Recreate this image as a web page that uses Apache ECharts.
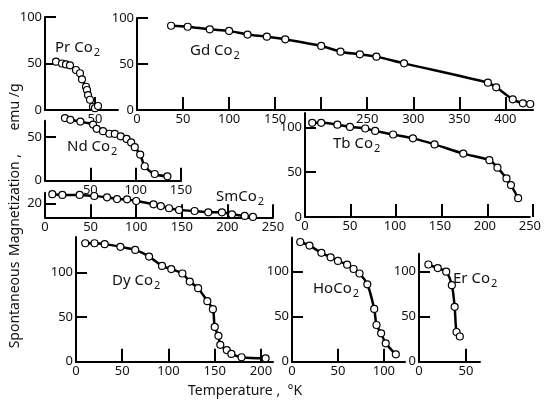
<!DOCTYPE html>
<html>
<head>
<meta charset="utf-8">
<style>
  html, body { margin: 0; padding: 0; background: #fff; }
  #chart { width: 544px; height: 400px; }
</style>
<script src="https://cdn.jsdelivr.net/npm/echarts@6/dist/echarts.min.js"></script>
</head>
<body>
<div id="chart"></div>
<script>
// PrCo2
var prTemp = [11, 17, 21, 25, 31, 35, 37, 41, 42, 43, 45, 48, 50, 53];
var prMag = [52, 50, 49, 48, 43, 39.5, 33, 25, 21.5, 16, 11, 3.5, 2, 4.3];
// GdCo2
var gdTemp = [37, 55, 79, 100, 120, 141, 161, 200, 221, 242, 260, 290, 381, 390, 408, 419, 427];
var gdMag = [91.6, 90.5, 87.7, 86, 82, 79.7, 76.8, 69.6, 63.4, 60.5, 58, 50.7, 29.7, 24.7, 11.6, 7.3, 6.5];
// NdCo2
var ndTemp = [22, 28, 39, 53, 57, 64, 71, 77, 83.5, 90, 95, 99, 105, 110, 121, 135];
var ndMag = [72, 70, 68, 64.5, 59.6, 57, 54, 53.8, 51, 48, 44, 38.5, 30, 16.6, 7.7, 5];
// SmCo2
var smTemp = [8, 19, 38, 54, 68, 79, 90, 100, 119, 127, 136, 147, 164, 179, 194, 205, 219, 228];
var smMag = [33, 32, 32, 30.4, 28.6, 26.1, 25.7, 23.3, 18.6, 16.1, 12.9, 10.4, 9, 7.1, 7.1, 4.3, 1.9, 0.5];
// TbCo2
var tbTemp = [8, 18, 36, 50, 67, 78, 98, 120, 144, 176, 205, 214, 224, 229, 237];
var tbMag = [105, 105, 103, 100.5, 98.7, 96, 92, 87.7, 81, 70.7, 63.4, 55, 43, 35.6, 21];
// DyCo2
var dyTemp = [10, 20, 31, 48, 64, 79, 93, 103, 115, 123, 132, 142, 148, 150, 154, 156, 163, 168, 179, 205];
var dyMag = [133, 133, 132, 129, 125.5, 118, 107.5, 104, 99, 90, 82.5, 68, 59, 39, 29, 19, 13, 8.7, 5, 3.8];
// HoCo2
var hoTemp = [9, 19, 32, 42, 50, 60, 67, 73.5, 82, 89.5, 92, 97, 102, 113];
var hoMag = [133, 129, 121, 116, 112, 107.8, 103, 98, 86, 58.6, 40.8, 31.5, 20.4, 8.2];
// ErCo2
var erTemp = [10, 20, 29, 35, 38, 40, 43.5];
var erMag = [108, 104, 100, 85, 61, 33, 28];

// tick labels
var prXLabels = [50], prYLabels = [0, 50, 100];
var gdXLabels = [0, 50, 100, 150, 250, 300, 350, 400], gdYLabels = [0, 50, 100];
var ndXLabels = [50, 100, 150], ndYLabels = [0, 50];
var smXLabels = [0, 50, 100, 150, 200, 250], smYLabels = [20];
var tbXLabels = [0, 50, 100, 150, 200, 250], tbYLabels = [0, 50, 100];
var dyXLabels = [0, 50, 100, 150, 200], dyYLabels = [0, 50, 100];
var hoXLabels = [0, 50, 100], hoYLabels = [0, 50, 100];
var erXLabels = [0, 50], erYLabels = [0, 50, 100];

var FONT = 'Noto Sans';
var X_STEP = 50;
var option = {
  backgroundColor: '#fff',
  animation: false,
  grid: [], xAxis: [], yAxis: [], series: [], title: []
};

function zip(a, b) {
  var out = [];
  for (var k = 0; k < a.length; k++) out.push([a[k], b[k]]);
  return out;
}

function panel(box, xMax, yMax, yStep, xLabels, yLabels, temps, mags, name, sep, tx, ty) {
  // main grid: axis lines, labels and the curve
  var i = option.grid.length;
  option.grid.push({ left: box[0], top: box[1], width: box[2], height: box[3] });
  option.xAxis.push({
    gridIndex: i, type: 'value', min: 0, max: xMax,
    axisLine: { show: true, onZero: false, lineStyle: { color: '#000', width: 2 } },
    axisTick: { show: false },
    axisLabel: { customValues: xLabels, color: '#111', fontFamily: FONT, fontSize: 13, margin: 3 },
    splitLine: { show: false }
  });
  option.yAxis.push({
    gridIndex: i, type: 'value', min: 0, max: yMax,
    axisLine: { show: true, onZero: false, lineStyle: { color: '#000', width: 2 } },
    axisTick: { show: false },
    axisLabel: { customValues: yLabels, color: '#111', fontFamily: FONT, fontSize: 13, margin: 3 },
    splitLine: { show: false }
  });
  option.series.push({
    type: 'line', xAxisIndex: i, yAxisIndex: i, z: 3,
    data: zip(temps, mags),
    smooth: 0.3, clip: false,
    symbol: 'circle', symbolSize: 7, showAllSymbol: true,
    lineStyle: { color: '#000', width: 2.5 },
    itemStyle: { color: '#fff', borderColor: '#000', borderWidth: 1.2 }
  });

  // tick grid: same scale, cut at the last whole step so no tick lands on the axis end
  var lastX = Math.floor(xMax / X_STEP) * X_STEP;
  var lastY = Math.floor(yMax / yStep) * yStep;
  var w = box[2] * lastX / xMax, h = box[3] * lastY / yMax;
  var j = option.grid.length;
  option.grid.push({ left: box[0], top: box[1] + box[3] - h, width: w, height: h });
  option.xAxis.push({
    gridIndex: j, type: 'value', min: 0, max: lastX, interval: X_STEP,
    axisLine: { show: false },
    axisTick: { show: true, inside: true, length: 13, lineStyle: { color: '#000', width: 2 } },
    axisLabel: { show: false }, splitLine: { show: false }
  });
  option.yAxis.push({
    gridIndex: j, type: 'value', min: 0, max: lastY, interval: yStep,
    axisLine: { show: false },
    axisTick: { show: true, inside: true, length: 11, lineStyle: { color: '#000', width: 2 } },
    axisLabel: { show: false }, splitLine: { show: false }
  });

  option.title.push({
    left: tx, top: ty - 10.5, padding: 0,
    text: '{m|' + name + sep + 'Co}{s|2}',
    textStyle: {
      fontWeight: 'normal',
      rich: {
        m: { fontSize: 15, fontFamily: FONT, fontWeight: 'normal', color: '#111' },
        s: { fontSize: 11, fontFamily: FONT, fontWeight: 'normal', color: '#111', padding: [10, 0, 0, 1] }
      }
    }
  });
}

panel([45, 17, 73, 93], 73, 100, 50, prXLabels, prYLabels, prTemp, prMag, 'Pr', ' ', 55, 48);
panel([137, 18, 396, 92], 430, 100, 50, gdXLabels, gdYLabels, gdTemp, gdMag, 'Gd', ' ', 190, 51);
panel([45, 120.7, 136, 60], 150, 69, 50, ndXLabels, ndYLabels, ndTemp, ndMag, 'Nd', ' ', 67, 147);
panel([45, 192.8, 228, 24.5], 250, 35, 20, smXLabels, smYLabels, smTemp, smMag, 'Sm', '', 216, 197);
panel([305, 113, 228, 104], 250, 116, 50, tbXLabels, tbYLabels, tbTemp, tbMag, 'Tb', ' ', 333, 144);
panel([76, 237, 197, 124.7], 213, 140, 50, dyXLabels, dyYLabels, dyTemp, dyMag, 'Dy', ' ', 112, 281);
panel([292, 237.5, 113, 124.2], 123, 138, 50, hoXLabels, hoYLabels, hoTemp, hoMag, 'Ho', '', 313, 289);
panel([419, 253.7, 61, 108], 65, 120, 50, erXLabels, erYLabels, erTemp, erMag, 'Er', ' ', 453, 279);

option.graphic = [
  { type: 'text', x: 15, y: 305, rotation: Math.PI / 2,
    style: { text: 'Spontaneous', fontSize: 14, fontFamily: FONT, fill: '#111', align: 'center', verticalAlign: 'middle' } },
  { type: 'text', x: 15, y: 205, rotation: Math.PI / 2,
    style: { text: 'Magnetization ,', fontSize: 14, fontFamily: FONT, fill: '#111', align: 'center', verticalAlign: 'middle' } },
  { type: 'text', x: 15, y: 107, rotation: Math.PI / 2,
    style: { text: 'emu /g', fontSize: 14, fontFamily: FONT, fill: '#111', align: 'center', verticalAlign: 'middle' } },
  { type: 'text', x: 188, y: 391,
    style: { text: 'Temperature ,  \u00b0K', fontSize: 14, fontFamily: FONT, fill: '#111', align: 'left', verticalAlign: 'middle' } }
];

var chart = echarts.init(document.getElementById('chart'));
chart.setOption(option);
</script>
</body>
</html>
